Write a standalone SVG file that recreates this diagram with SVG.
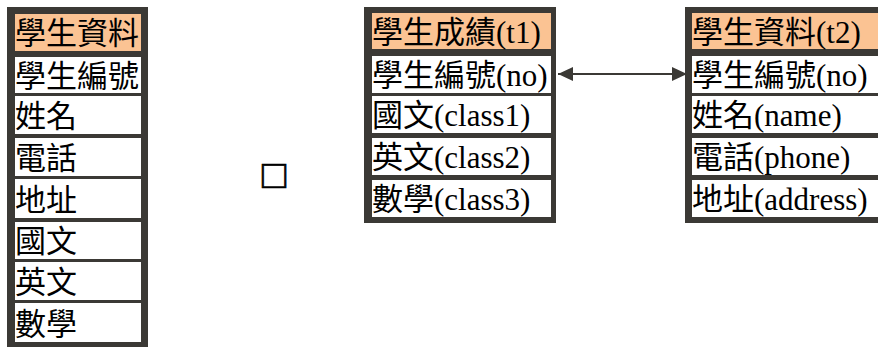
<svg xmlns="http://www.w3.org/2000/svg" width="878" height="347" viewBox="0 0 878 347">
<style>
.frame{fill:#3b3935}
.hd{fill:#fbc393}
.cell{fill:#ffffff}
text{font-family:"Liberation Serif","Noto Sans CJK TC",serif;font-size:31px;fill:#000}
.sym{font-size:40px;stroke:#000;stroke-width:0.7}
.conn{stroke:#3b3935;stroke-width:2;fill:none}
</style>
<defs>
<marker id="ah" viewBox="0 0 15 14" refX="15" refY="7" markerWidth="15" markerHeight="14" markerUnits="userSpaceOnUse" orient="auto-start-reverse">
<path d="M0,0 L15,7 L0,14 Z" fill="#3b3935"/>
</marker>
</defs>
<rect width="878" height="347" fill="#fff"/>
<g id="table-left">
<rect class="frame" x="7" y="7" width="141" height="340"/>
<rect class="hd" x="15" y="14" width="126" height="37"/>
<rect class="cell" x="15" y="57" width="126" height="36"/>
<rect class="cell" x="15" y="96" width="126" height="38"/>
<rect class="cell" x="15" y="138" width="126" height="38"/>
<rect class="cell" x="15" y="179" width="126" height="39"/>
<rect class="cell" x="15" y="222" width="126" height="37"/>
<rect class="cell" x="15" y="262" width="126" height="38"/>
<rect class="cell" x="15" y="303" width="126" height="39"/>
<text x="15" y="44">學生資料</text>
<text x="15" y="87">學生編號</text>
<text x="15" y="127">姓名</text>
<text x="15" y="169">電話</text>
<text x="15" y="211">地址</text>
<text x="15" y="252">國文</text>
<text x="15" y="293">英文</text>
<text x="15" y="335">數學</text>
</g>
<g id="symbol">
<text class="sym" x="262" y="188">□</text>
</g>
<g id="table-t1">
<rect class="frame" x="364" y="7" width="192" height="216"/>
<rect class="hd" x="372" y="13" width="179" height="36"/>
<rect class="cell" x="372" y="56" width="179" height="37"/>
<rect class="cell" x="372" y="96" width="179" height="37"/>
<rect class="cell" x="372" y="138" width="179" height="37"/>
<rect class="cell" x="372" y="180" width="179" height="37"/>
<text x="372" y="43">學生成績(t1)</text>
<text x="372" y="86">學生編號(no)</text>
<text x="372" y="126">國文(class1)</text>
<text x="372" y="168">英文(class2)</text>
<text x="372" y="210">數學(class3)</text>
</g>
<g id="table-t2">
<rect class="frame" x="685" y="7" width="200" height="216"/>
<rect class="hd" x="692" y="13" width="190" height="36"/>
<rect class="cell" x="692" y="56" width="190" height="37"/>
<rect class="cell" x="692" y="96" width="190" height="37"/>
<rect class="cell" x="692" y="138" width="190" height="37"/>
<rect class="cell" x="692" y="180" width="190" height="37"/>
<text x="692" y="43">學生資料(t2)</text>
<text x="692" y="86">學生編號(no)</text>
<text x="692" y="126">姓名(name)</text>
<text x="692" y="168">電話(phone)</text>
<text x="692" y="210">地址(address)</text>
</g>
<g id="connectors">
<line class="conn" x1="558" y1="74" x2="687" y2="74" marker-start="url(#ah)" marker-end="url(#ah)"/>
</g>
</svg>
